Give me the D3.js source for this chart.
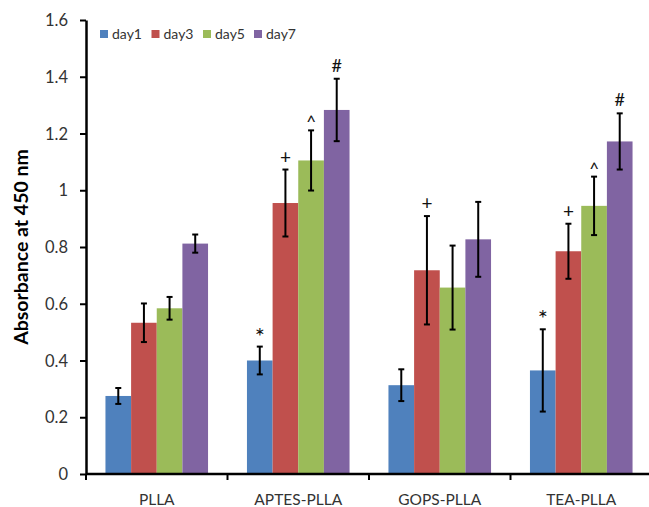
<!DOCTYPE html>
<html><head><meta charset="utf-8">
<script src="https://cdn.jsdelivr.net/npm/d3@7"></script>
<style>body{margin:0;background:#fff}svg{display:block}text{font-family:Lato,"Liberation Sans",sans-serif}</style>
</head><body>
<svg id="c" width="649" height="507"></svg>
<script>
const categories = ["PLLA", "APTES-PLLA", "GOPS-PLLA", "TEA-PLLA"];
const seriesNames = ["day1", "day3", "day5", "day7"];
const colors = ["#4F81BD", "#C0504D", "#9BBB59", "#8064A2"];
const day1 = [0.275, 0.400, 0.313, 0.365];
const day3 = [0.533, 0.955, 0.718, 0.785];
const day5 = [0.584, 1.105, 0.657, 0.945];
const day7 = [0.812, 1.283, 0.827, 1.172];
const err1 = [0.028, 0.049, 0.056, 0.145];
const err3 = [0.068, 0.118, 0.191, 0.097];
const err5 = [0.040, 0.106, 0.148, 0.103];
const err7 = [0.032, 0.110, 0.132, 0.099];
const marks1 = ["", "*", "", "*"];
const marks3 = ["", "+", "+", "+"];
const marks5 = ["", "^", "", "^"];
const marks7 = ["", "#", "", "#"];
const yTicks = [0, 0.2, 0.4, 0.6, 0.8, 1, 1.2, 1.4, 1.6];

const values = [day1, day3, day5, day7];
const errs = [err1, err3, err5, err7];
const marks = [marks1, marks3, marks5, marks7];

const svg = d3.select("#c");
const mLeft = 86, mRight = 652, mTop = 20, mBottom = 474;
const y = d3.scaleLinear().domain([0, 1.6]).range([mBottom, mTop]);
const x0 = d3.scaleBand().domain(categories).range([mLeft, mRight]).paddingInner(0.275).paddingOuter(0.1375);
const x1 = d3.scaleBand().domain(seriesNames).range([0, x0.bandwidth()]);

const data = [];
categories.forEach((c, i) => seriesNames.forEach((s, j) => data.push({c, s, j, v: values[j][i], e: errs[j][i], m: marks[j][i]})));

const g = svg.append("g");
g.selectAll("rect.bar").data(data).join("rect").attr("class", "bar")
  .attr("x", d => x0(d.c) + x1(d.s)).attr("width", x1.bandwidth())
  .attr("y", d => y(d.v)).attr("height", d => y(0) - y(d.v))
  .attr("fill", d => colors[d.j]);

// error bars
const eb = g.selectAll("g.err").data(data).join("g").attr("class", "err")
  .attr("transform", d => `translate(${x0(d.c) + x1(d.s) + x1.bandwidth() / 2},0)`);
eb.append("line").attr("y1", d => y(d.v + d.e)).attr("y2", d => y(d.v - d.e)).attr("stroke", "#000").attr("stroke-width", 2);
eb.append("line").attr("x1", -3).attr("x2", 3).attr("y1", d => y(d.v + d.e)).attr("y2", d => y(d.v + d.e)).attr("stroke", "#000").attr("stroke-width", 2);
eb.append("line").attr("x1", -3).attr("x2", 3).attr("y1", d => y(d.v - d.e)).attr("y2", d => y(d.v - d.e)).attr("stroke", "#000").attr("stroke-width", 2);
const symSize = {"*": 24, "+": 19, "^": 17, "#": 18};
const symOff = {"*": 2, "+": 6, "^": 2, "#": 7};
eb.filter(d => d.m).append("text").attr("text-anchor", "middle")
  .attr("y", d => y(d.v + d.e) - symOff[d.m])
  .attr("font-size", d => symSize[d.m]).attr("fill", "#111").text(d => d.m);

// y axis
const yAxis = d3.axisLeft(y).tickValues(yTicks).tickFormat(d => d3.format("")(+d.toFixed(1))).tickSize(6).tickSizeOuter(0);
const ya = svg.append("g").attr("transform", `translate(${mLeft},0)`).call(yAxis);
ya.select(".domain").attr("stroke", "#000").attr("stroke-width", 2.5);
ya.selectAll(".tick line").attr("stroke", "#000").attr("stroke-width", 2);
ya.selectAll(".tick text").attr("font-size", 16.5).attr("fill", "#333").attr("x", -18).attr("dy", "0.34em").style("font-family", "Lato,sans-serif");

// x axis
const xa = svg.append("g").attr("transform", `translate(0,${mBottom})`);
xa.append("line").attr("x1", mLeft).attr("x2", mRight).attr("stroke", "#000").attr("stroke-width", 2.5);
const step = x0.step();
const bounds = categories.map((c, i) => mLeft + i * step);
xa.selectAll("line.tk").data(bounds).join("line").attr("class", "tk")
  .attr("x1", d => d).attr("x2", d => d).attr("y1", 0).attr("y2", 6).attr("stroke", "#000").attr("stroke-width", 2);
xa.selectAll("text").data(categories).join("text")
  .attr("x", d => x0(d) + x0.bandwidth() / 2).attr("y", 31).attr("text-anchor", "middle")
  .attr("font-size", 15.5).attr("fill", "#333").text(d => d);

// y title
svg.append("text").attr("transform", "translate(28,247) rotate(-90)").attr("text-anchor", "middle")
  .attr("font-size", 19.5).attr("font-weight", "bold").attr("fill", "#000").text("Absorbance at 450 nm");

// legend
const lg = svg.append("g").selectAll("g").data(seriesNames).join("g")
  .attr("transform", (d, i) => `translate(${[100, 151.5, 203, 254][i]},30)`);
lg.append("rect").attr("width", 8).attr("height", 8).attr("y", 0).attr("fill", (d, i) => colors[i]);
lg.append("text").attr("x", 12).attr("y", 9).attr("font-size", 14).attr("fill", "#333").text(d => d);
</script>
</body></html>
